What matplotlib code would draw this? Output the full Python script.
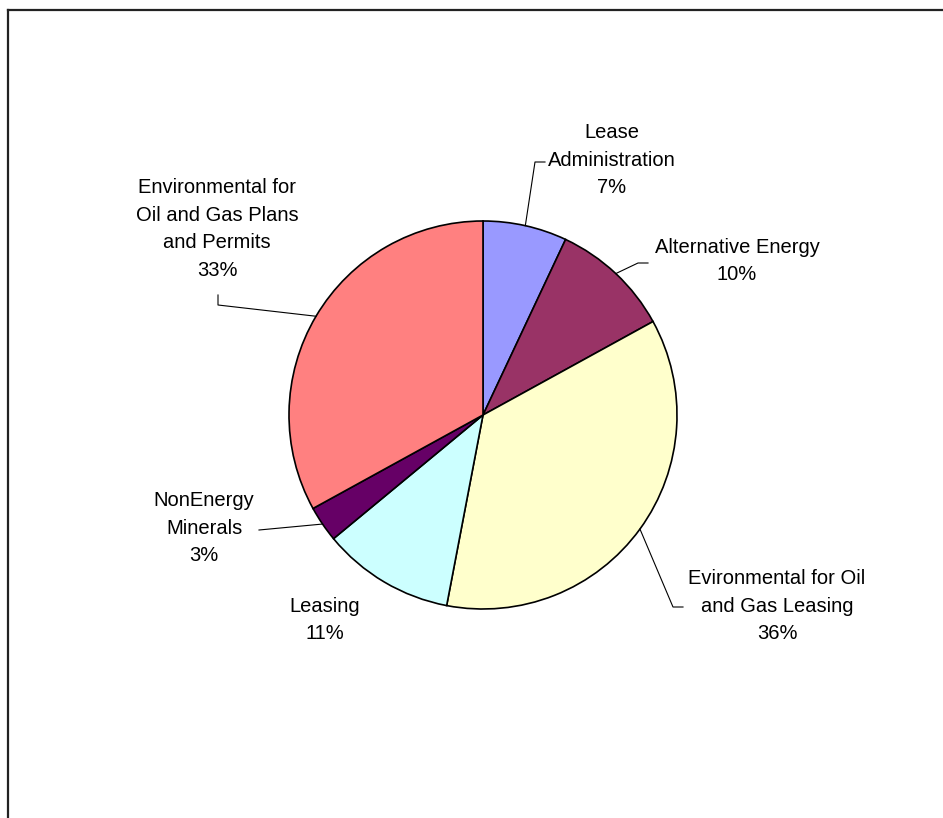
import matplotlib
matplotlib.use('Agg')
import matplotlib.pyplot as plt
from matplotlib.lines import Line2D
import numpy as np

# budget split, clockwise from 12 o'clock
names = ["Lease\nAdministration", "Alternative Energy",
         "Evironmental for Oil\nand Gas Leasing", "Leasing",
         "NonEnergy\nMinerals", "Environmental for\nOil and Gas Plans\nand Permits"]
shares = [7, 10, 36, 11, 3, 33]
colors = ["#9999FF", "#993366", "#FFFFCC", "#CCFFFF", "#660066", "#FF8080"]

W, H = 943, 818
CX, CY, R = 483, 415, 194

# label centre and leader bend points, pixel coords from top-left
label_pos = [(612, 160), (737, 261), (777, 606), (325, 620), (204, 528), (217, 229)]
leaders = [[(535, 162), (545, 162)],
           [(638, 263), (648, 263)],
           [(673, 607), (683, 607)],
           None,
           [(259, 530)],
           [(218, 305), (218, 295)]]

def px(x, y):
    return x, H - y

fig = plt.figure(figsize=(W / 100, H / 100), dpi=100)
ax = fig.add_axes([0, 0, 1, 1])

ax.pie(shares, colors=colors, startangle=90, counterclock=False,
       center=px(CX, CY), radius=R,
       wedgeprops=dict(edgecolor='black', linewidth=1.2))
# pie() resets the limits, so set the pixel frame afterwards
ax.set_xlim(0, W)
ax.set_ylim(0, H)
ax.set_aspect('equal')
ax.axis('off')

font = dict(family='Liberation Sans', size=14.5, color='black')
cum = np.cumsum([0] + shares)
for i, name in enumerate(names):
    tx, ty = label_pos[i]
    ax.text(*px(tx, ty), f"{name}\n{shares[i]}%", ha='center', va='center',
            linespacing=1.58, **font)
    if leaders[i] is None:
        continue
    mid = np.radians((cum[i] + shares[i] / 2) / 100 * 360)
    ex, ey = CX + R * np.sin(mid), CY - R * np.cos(mid)
    pts = [(ex, ey)] + leaders[i]
    xs = [p[0] for p in pts]
    ys = [H - p[1] for p in pts]
    ax.plot(xs, ys, color='black', linewidth=0.8)

# chart-area frame, only left and top edges show
fig.add_artist(Line2D([8 / W, 1], [1 - 10 / H, 1 - 10 / H], color='#222222', linewidth=1.6))
fig.add_artist(Line2D([8 / W, 8 / W], [0, 1 - 10 / H], color='#222222', linewidth=1.6))

fig.savefig('out.png', dpi=100, facecolor='white')
plt.close()
